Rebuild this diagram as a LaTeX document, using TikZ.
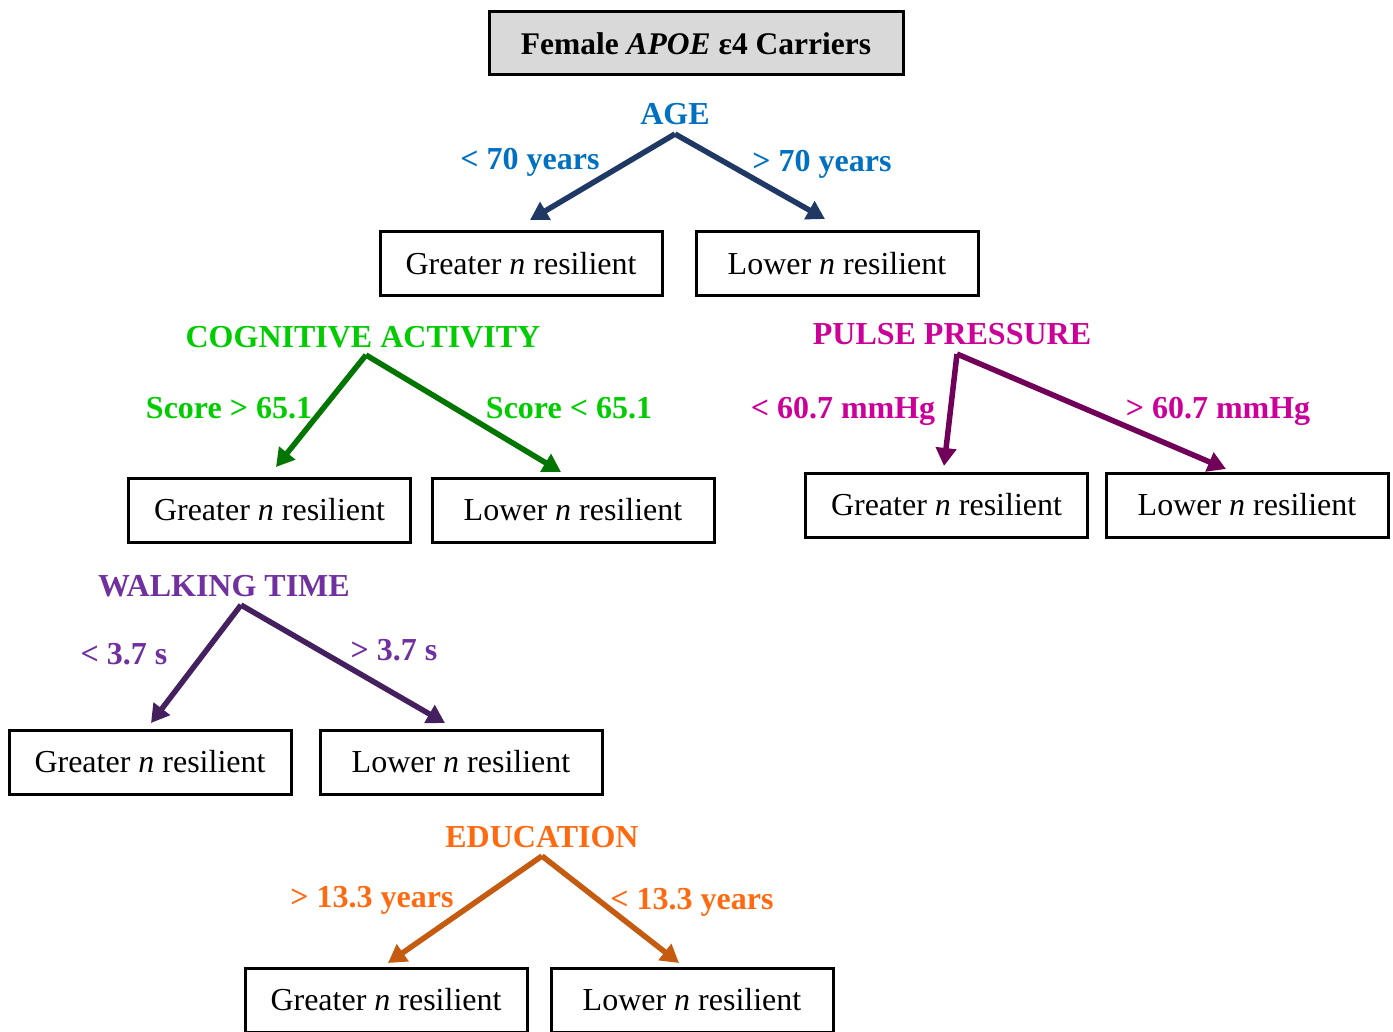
\documentclass[tikz,border=0pt]{standalone}
\usepackage{fontspec}
\setmainfont{Liberation Serif}
\usetikzlibrary{arrows.meta}
\definecolor{agelab}{HTML}{0070C0}
\definecolor{agearr}{HTML}{203864}
\definecolor{coglab}{HTML}{00CC00}
\definecolor{cogarr}{HTML}{037503}
\definecolor{pullab}{HTML}{CC0099}
\definecolor{pularr}{HTML}{700058}
\definecolor{walklab}{HTML}{7030A0}
\definecolor{walkarr}{HTML}{45205F}
\definecolor{edulab}{HTML}{FF6A10}
\definecolor{eduarr}{HTML}{C55A11}
\definecolor{titlegray}{HTML}{D9D9D9}
\tikzset{
  resbox/.style={draw=black, line width=3pt, minimum width=282pt, minimum height=64pt, inner sep=0pt,
    font=\fontsize{32}{38}\selectfont},
  lab/.style={font=\fontsize{32}{38}\selectfont\bfseries, inner sep=0pt, text height=21pt, text depth=0pt},
  splitarrow/.style={line width=5.5pt, -{Triangle[length=18pt,width=20pt]}}
}
\begin{document}
\begin{tikzpicture}[x=1pt,y=-1pt]
\useasboundingbox (0,0) rectangle (1393,1032);
% title
\node[draw=black, line width=3pt, fill=titlegray, minimum width=414pt, minimum height=63pt,
  font=\fontsize{31.5}{37}\selectfont\bfseries] (title) at (696,43.5) {Female \textit{APOE} ε4 Carriers};

% AGE
\node[lab, text=agelab] (age) at (675,114) {AGE};
\coordinate (ageapex) at (675,134);
\node[lab, text=agelab] (agel) at (530,159) {< 70 years};
\node[lab, text=agelab] (ager) at (822,161) {> 70 years};
\node[resbox] (ageg) at (521,264) {Greater \textit{n} resilient};
\node[resbox] (agelo) at (837,264) {Lower \textit{n} resilient};
\coordinate (ageend1) at (530,220);
\coordinate (ageend2) at (825,219);
\draw[splitarrow, agearr] (ageapex) -- (ageend1);
\draw[splitarrow, agearr] (ageapex) -- (ageend2);

% COGNITIVE
\node[lab, text=coglab] (cog) at (363,337) {COGNITIVE ACTIVITY};
\coordinate (cogapex) at (366,355);
\node[lab, text=coglab] (cogl) at (229,408) {Score > 65.1};
\node[lab, text=coglab] (cogr) at (569,408) {Score < 65.1};
\node[resbox] (cogg) at (269.5,510) {Greater \textit{n} resilient};
\node[resbox] (coglo) at (573,510) {Lower \textit{n} resilient};
\coordinate (cogend1) at (276,467);
\coordinate (cogend2) at (561,472);
\draw[splitarrow, cogarr] (cogapex) -- (cogend1);
\draw[splitarrow, cogarr] (cogapex) -- (cogend2);

% PULSE
\node[lab, text=pullab] (pul) at (952,334) {PULSE PRESSURE};
\coordinate (pulapex) at (957,354);
\node[lab, text=pullab] (pull) at (843,408) {< 60.7 mmHg};
\node[lab, text=pullab] (pulr) at (1218,408) {> 60.7 mmHg};
\node[resbox] (pulg) at (946.5,505) {Greater \textit{n} resilient};
\node[resbox] (pullo) at (1247,505) {Lower \textit{n} resilient};
\coordinate (pulend1) at (944,466);
\coordinate (pulend2) at (1226,469);
\draw[splitarrow, pularr] (pulapex) -- (pulend1);
\draw[splitarrow, pularr] (pulapex) -- (pulend2);

% WALKING
\node[lab, text=walklab] (walk) at (224,586) {WALKING TIME};
\coordinate (walkapex) at (241,605);
\node[lab, text=walklab] (walkl) at (124,654) {< 3.7 s};
\node[lab, text=walklab] (walkr) at (394,650) {> 3.7 s};
\node[resbox] (walkg) at (150,762) {Greater \textit{n} resilient};
\node[resbox] (walklo) at (461,762) {Lower \textit{n} resilient};
\coordinate (walkend1) at (151,723);
\coordinate (walkend2) at (445,723);
\draw[splitarrow, walkarr] (walkapex) -- (walkend1);
\draw[splitarrow, walkarr] (walkapex) -- (walkend2);

% EDUCATION
\node[lab, text=edulab] (edu) at (542,837) {EDUCATION};
\coordinate (eduapex) at (542,856);
\node[lab, text=edulab] (edul) at (372,897) {> 13.3 years};
\node[lab, text=edulab] (edur) at (692,899) {< 13.3 years};
\node[resbox] (edug) at (386,1000) {Greater \textit{n} resilient};
\node[resbox] (edulo) at (692,1000) {Lower \textit{n} resilient};
\coordinate (eduend1) at (388,963);
\coordinate (eduend2) at (679,963);
\draw[splitarrow, eduarr] (eduapex) -- (eduend1);
\draw[splitarrow, eduarr] (eduapex) -- (eduend2);
\end{tikzpicture}
\end{document}
